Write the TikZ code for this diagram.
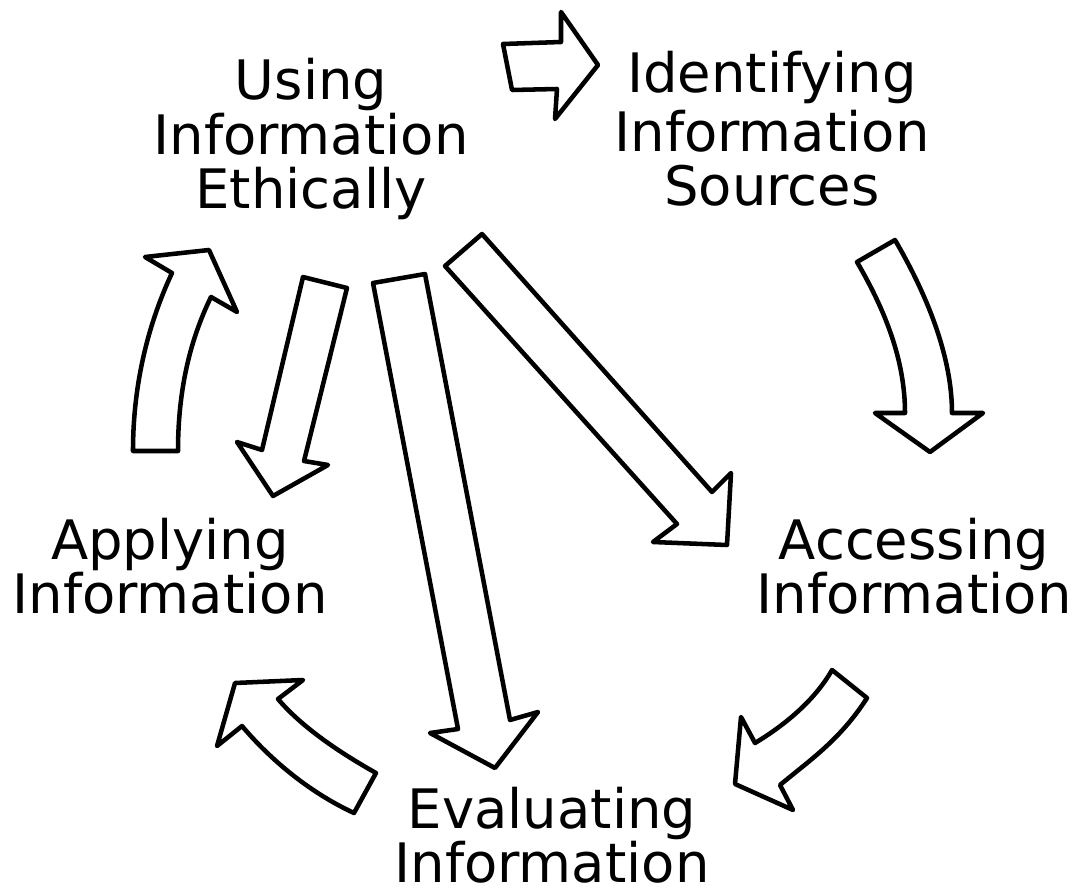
\documentclass[tikz,border=0pt]{standalone}
\usepackage{fontspec}
\newfontfamily\stagefont{DejaVu Sans}
\tikzset{
	stage/.style={align=center, inner sep=0pt, font=\stagefont\fontsize{40.8pt}{40.6pt}\selectfont},
	block/.style={draw, line width=3.4pt, line join=round}
}

\begin{document}
\begin{tikzpicture}[x=0.75pt, y=-0.75pt]
	\useasboundingbox (0,0) rectangle (1074,891);
	
	\node[stage] (USING) at (311,139) {Using\\Information\\Ethically};
	\node[stage] (IDENT) at (772,129) {Identifying\\[3.75pt]Information\\Sources};
	\node[stage] (ACCESS) at (914,566) {Accessing\\Information};
	\node[stage] (EVAL) at (552,835) {Evaluating\\Information};
	\node[stage] (APPLY) at (170,566) {Applying\\Information};
	
	\draw[block]
	(503,44) -- (561,42) -- (561,12) -- (598,65) -- (555,119) -- (557,89) -- (512,90) -- cycle
	
	(857,262) -- (895,240) .. controls (930,300) and (952,360) .. (952,413)
	-- (983,413) -- (930,452) -- (875,413) -- (905,413)
	.. controls (905,360) and (885,310) .. (857,262) -- cycle
	
	(832,670) -- (867,698) .. controls (840,740) and (810,760) .. (780,785)
	-- (793,810) -- (735,784) -- (741,717) -- (755,743)
	.. controls (785,725) and (815,700) .. (832,670) -- cycle
	
	(354,813) -- (376,773) .. controls (335,750) and (300,725) .. (278,699)
	-- (303,680) -- (235,683) -- (217,746) -- (242,726)
	.. controls (275,765) and (315,795) .. (354,813) -- cycle
	
	(133,451) -- (178,451) .. controls (178,390) and (190,340) .. (211,297)
	-- (237,312) -- (209,250) -- (145,257) -- (172,273)
	.. controls (150,320) and (133,380) .. (133,451) -- cycle
	
	(303,277) -- (347,288) -- (304,461) -- (328,465) -- (273,496) -- (237,442) -- (262,450) -- cycle
	(373,283) -- (425,274) -- (510,720) -- (538,712) -- (495,768) -- (430,733) -- (458,729) -- cycle
	(482,234) -- (712,492) -- (731,473) -- (727,545) -- (653,542) -- (677,524) -- (445,266) -- cycle
	;
\end{tikzpicture}
\end{document}
